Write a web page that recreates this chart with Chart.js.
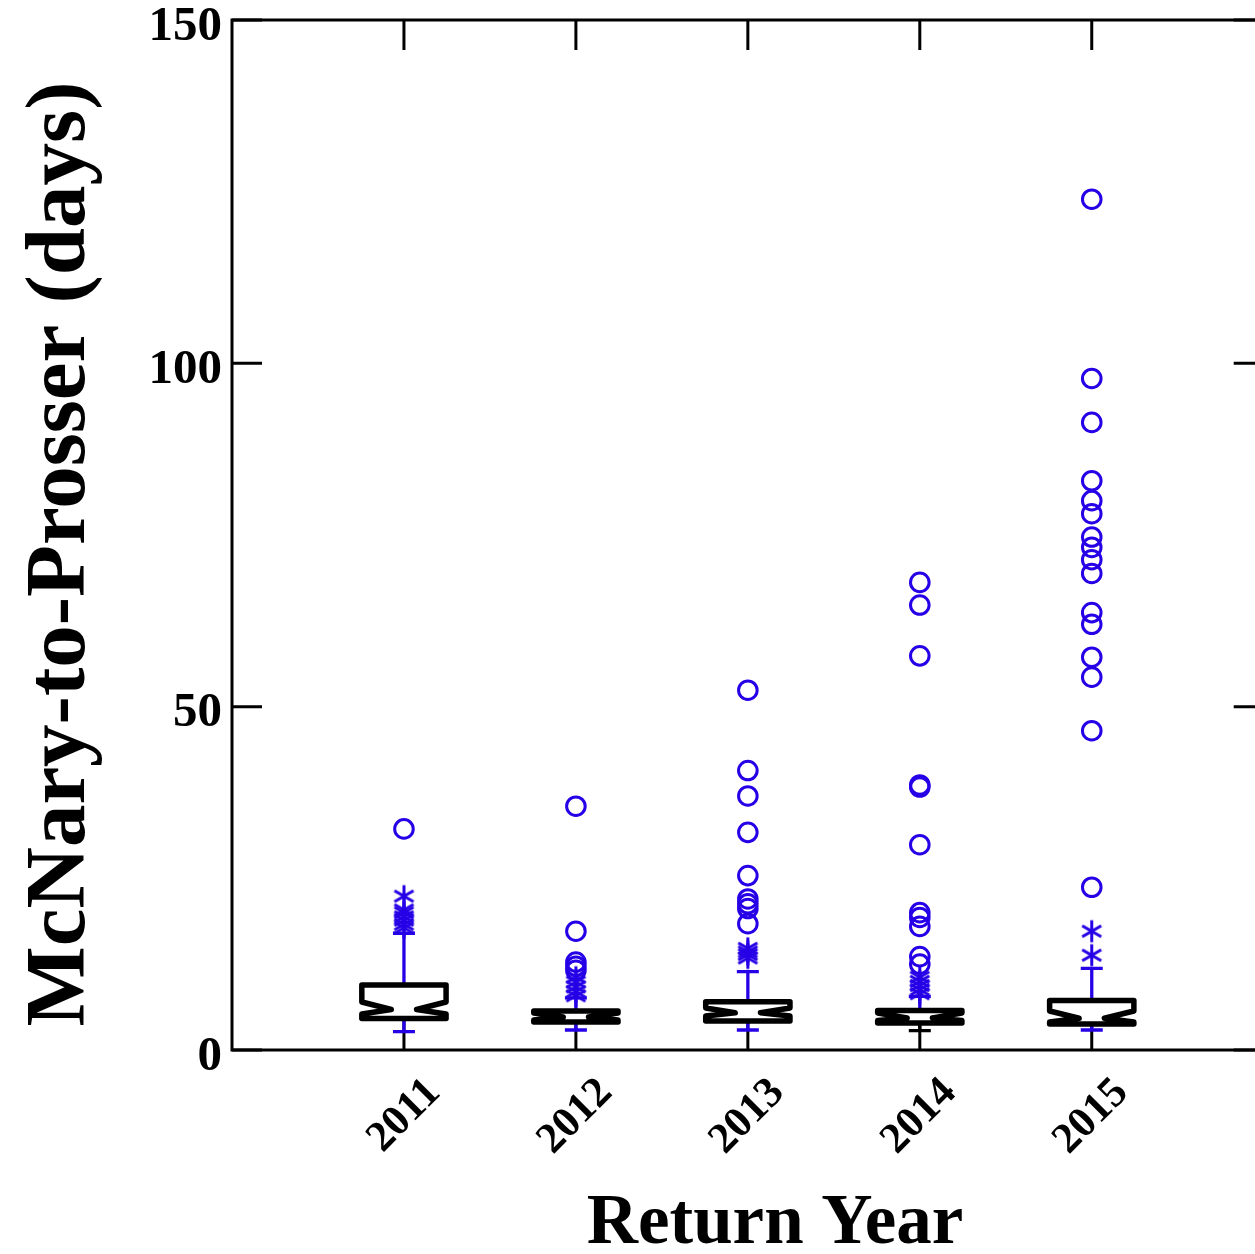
<!DOCTYPE html>
<html>
<head>
<meta charset="utf-8">
<script src="https://cdn.jsdelivr.net/npm/chart.js@4"></script>
<style>
  html, body { margin: 0; padding: 0; background: #fff; overflow: hidden; }
  #wrap { width: 1276px; height: 1254px; }
</style>
</head>
<body>
<div id="wrap"><canvas id="c" width="1276" height="1254"></canvas></div>
<script>
// Return years and notched box-plot summaries (days)
const years = [2011, 2012, 2013, 2014, 2015];
const lowerWhisker = [2.67, 2.91, 2.91, 2.81, 2.91];
const lowerHinge   = [4.59, 4.08, 4.23, 3.93, 3.79];
const notchLow     = [5.25, 4.37, 4.95, 4.30, 4.08];
const medians      = [5.90, 4.80, 5.43, 4.66, 4.62];
const notchHigh    = [6.99, 5.40, 6.12, 5.39, 5.68];
const upperHinge   = [9.47, 5.68, 7.04, 5.76, 7.21];
const upperWhisker = [17.0, 7.6, 11.4, 7.8, 11.9];

// Outside values (*) per year
const outsideValues = [
  [22.4, 20.4, 20.0, 19.4, 18.9, 18.3, 17.8],
  [10.6, 9.9, 9.2, 8.5, 7.9],
  [14.8, 14.3, 13.9, 13.4],
  [10.6, 10.0, 9.4, 8.8, 8.2],
  [17.3, 13.8]
];
// Far outside values (o) per year
const farOutsideValues = [
  [32.2],
  [35.5, 17.3, 12.8, 12.2, 11.6],
  [52.4, 40.7, 37.0, 31.7, 25.4, 22.0, 21.3, 20.6, 18.4],
  [68.1, 64.8, 57.4, 38.6, 38.3, 29.9, 20.0, 19.3, 18.0, 13.6, 12.5],
  [123.9, 97.8, 91.4, 82.9, 80.0, 78.1, 74.7, 73.2, 71.4, 69.4, 63.7, 62.0, 57.2, 54.3, 46.5, 23.7]
];
const yTicks = [0, 50, 100, 150];

const BLUE = 'rgb(38,0,230)';
const lowerWhiskerColors = [BLUE, BLUE, BLUE, '#000', BLUE];
const FONT = '"Liberation Serif", "Times New Roman", serif';
const BOX_HALF = 0.245;   // half box width in x units
const TICK_LEN = 30;

function makeAsterisk(r, color, lw) {
  const size = Math.ceil(2 * r + lw + 2);
  const c = document.createElement('canvas');
  c.width = c.height = size;
  const g = c.getContext('2d');
  g.strokeStyle = color;
  g.lineWidth = lw;
  const m = size / 2;
  [90, 30, -30].forEach(a => {
    const t = a * Math.PI / 180;
    g.beginPath();
    g.moveTo(m - r * Math.cos(t), m + r * Math.sin(t));
    g.lineTo(m + r * Math.cos(t), m - r * Math.sin(t));
    g.stroke();
  });
  return c;
}
const asterisk = makeAsterisk(11, BLUE, 3);

const starPoints = [];
const circlePoints = [];
years.forEach((yr, i) => {
  outsideValues[i].forEach(v => starPoints.push({ x: yr, y: v }));
  farOutsideValues[i].forEach(v => circlePoints.push({ x: yr, y: v }));
});

const framePlugin = {
  id: 'frameAndBoxes',
  beforeDatasetsDraw(chart) {
    const { ctx, chartArea: a, scales: { x, y } } = chart;
    ctx.save();
    // frame
    ctx.strokeStyle = '#000';
    ctx.lineWidth = 3;
    ctx.strokeRect(a.left, a.top, a.right - a.left, a.bottom - a.top);
    // inward tick marks
    ctx.beginPath();
    years.forEach(v => {
      const px = x.getPixelForValue(v);
      ctx.moveTo(px, a.bottom); ctx.lineTo(px, a.bottom - TICK_LEN);
      ctx.moveTo(px, a.top); ctx.lineTo(px, a.top + TICK_LEN);
    });
    yTicks.forEach(v => {
      const py = y.getPixelForValue(v);
      ctx.moveTo(a.left, py); ctx.lineTo(a.left + TICK_LEN, py);
      ctx.moveTo(a.right, py); ctx.lineTo(a.right - TICK_LEN, py);
    });
    ctx.stroke();

    // boxes and whiskers
    years.forEach((yr, i) => {
      const cx = x.getPixelForValue(yr);
      const hw = x.getPixelForValue(yr + BOX_HALF) - cx;
      const tip = hw * 0.3;
      const capW = 11;
      const L = cx - hw, R = cx + hw;
      const q1 = y.getPixelForValue(lowerHinge[i]);
      const q3 = y.getPixelForValue(upperHinge[i]);
      const md = y.getPixelForValue(medians[i]);
      const nl = y.getPixelForValue(notchLow[i]);
      const nh = y.getPixelForValue(notchHigh[i]);
      const wl = y.getPixelForValue(lowerWhisker[i]);
      const wh = y.getPixelForValue(upperWhisker[i]);

      ctx.lineWidth = 3.3;
      ctx.lineCap = 'butt';
      // upper whisker
      ctx.strokeStyle = BLUE;
      ctx.beginPath();
      ctx.moveTo(cx, q3); ctx.lineTo(cx, wh);
      ctx.moveTo(cx - capW, wh); ctx.lineTo(cx + capW, wh);
      ctx.stroke();
      // lower whisker
      ctx.strokeStyle = lowerWhiskerColors[i];
      ctx.beginPath();
      ctx.moveTo(cx, q1); ctx.lineTo(cx, wl);
      ctx.moveTo(cx - capW, wl); ctx.lineTo(cx + capW, wl);
      ctx.stroke();

      // notched box
      ctx.beginPath();
      ctx.moveTo(L, q3);
      ctx.lineTo(R, q3);
      ctx.lineTo(R, nh);
      ctx.lineTo(cx + tip, md);
      ctx.lineTo(R, nl);
      ctx.lineTo(R, q1);
      ctx.lineTo(L, q1);
      ctx.lineTo(L, nl);
      ctx.lineTo(cx - tip, md);
      ctx.lineTo(L, nh);
      ctx.closePath();
      ctx.fillStyle = '#fff';
      ctx.fill();
      ctx.strokeStyle = '#000';
      ctx.lineWidth = 5.5;
      ctx.lineJoin = 'round';
      ctx.stroke();
    });
    ctx.restore();
  },
  afterDraw(chart) {
    const { ctx } = chart;
    ctx.save();
    ctx.fillStyle = '#000';
    // y axis title
    ctx.font = 'bold 85px ' + FONT;
    ctx.textAlign = 'center';
    ctx.textBaseline = 'alphabetic';
    ctx.translate(84, 554);
    ctx.rotate(-Math.PI / 2);
    ctx.fillText('McNary-to-Prosser (days)', 0, 0);
    ctx.restore();
    // x axis title
    ctx.save();
    ctx.fillStyle = '#000';
    ctx.font = 'bold 71px ' + FONT;
    ctx.textAlign = 'center';
    ctx.textBaseline = 'alphabetic';
    ctx.fillText('Return Year', 775, 1243);
    ctx.restore();
  }
};

new Chart(document.getElementById('c'), {
  type: 'scatter',
  data: {
    datasets: [
      {
        label: 'outside',
        data: starPoints,
        pointStyle: asterisk,
        pointRadius: 11,
        showLine: false
      },
      {
        label: 'far outside',
        data: circlePoints,
        pointStyle: 'circle',
        pointRadius: 9.3,
        borderWidth: 3,
        borderColor: BLUE,
        backgroundColor: 'rgba(0,0,0,0)',
        showLine: false
      }
    ]
  },
  options: {
    responsive: false,
    animation: false,
    devicePixelRatio: 1,
    layout: { padding: { top: 20, right: 0, left: 0, bottom: 0 } },
    plugins: { legend: { display: false }, tooltip: { enabled: false } },
    scales: {
      x: {
        type: 'linear',
        min: 2010,
        max: 2016,
        afterBuildTicks: s => { s.ticks = years.map(v => ({ value: v })); },
        afterFit: s => { s.height = 204; s.paddingLeft = 0; s.paddingRight = 0; },
        grid: { display: false, drawTicks: false },
        border: { display: false },
        ticks: {
          autoSkip: false,
          minRotation: 45,
          maxRotation: 45,
          padding: 18,
          labelOffset: 30,
          color: '#000',
          font: { family: FONT, size: 43, weight: 'bold' },
          callback: v => String(v)
        }
      },
      y: {
        min: 0,
        max: 150,
        afterBuildTicks: s => { s.ticks = yTicks.map(v => ({ value: v })); },
        afterFit: s => { s.width = 232; s.paddingTop = 0; s.paddingBottom = 0; },
        grid: { display: false, drawTicks: false },
        border: { display: false },
        ticks: {
          padding: 10,
          labelOffset: 7,
          color: '#000',
          font: { family: FONT, size: 49, weight: 'bold' },
          callback: v => String(v)
        }
      }
    }
  },
  plugins: [framePlugin]
});
</script>
</body>
</html>
